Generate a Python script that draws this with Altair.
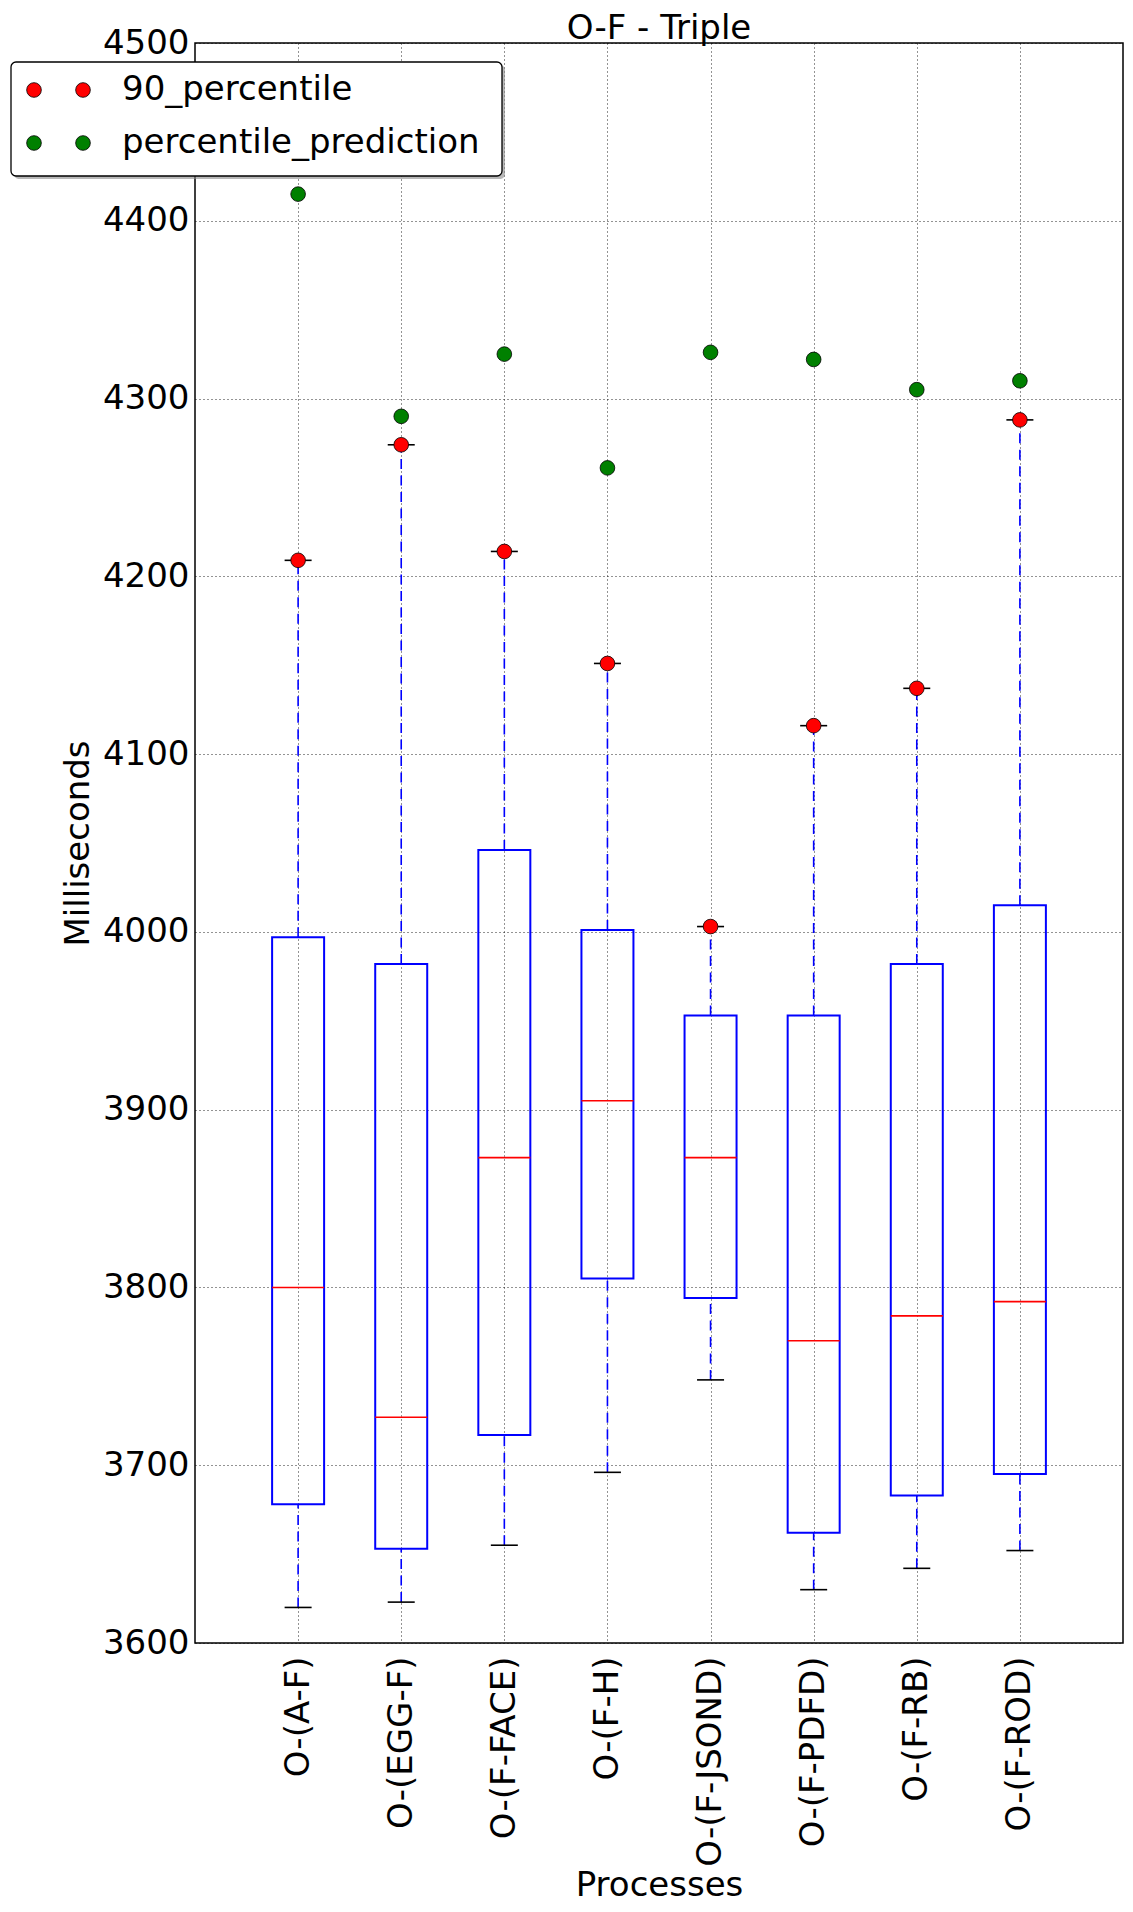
import altair as alt
import pandas as pd

# ---- data ----
processes = ["O-(A-F)", "O-(EGG-F)", "O-(F-FACE)", "O-(F-H)",
             "O-(F-JSOND)", "O-(F-PDFD)", "O-(F-RB)", "O-(F-ROD)"]
whisker_low = [3620, 3623, 3655, 3696, 3748, 3630, 3642, 3652]
q1 = [3678, 3653, 3717, 3805, 3794, 3662, 3683, 3695]
median = [3800, 3727, 3873, 3905, 3873, 3770, 3784, 3792]
q3 = [3997, 3982, 4046, 4001, 3953, 3953, 3982, 4015]
p90 = [4209, 4274, 4214, 4151, 4003, 4116, 4137, 4288]
prediction = [4415, 4290, 4325, 4261, 4326, 4322, 4305, 4310]

series_names = ["90_percentile", "percentile_prediction"]
series_colors = ["#ff0000", "#008000"]
y_ticks = [3600, 3700, 3800, 3900, 4000, 4100, 4200, 4300, 4400, 4500]
chart_title = "O-F - Triple"

FONT = "DejaVu Sans"
W, H = 928, 1600

box_df = pd.DataFrame({"process": processes, "lo": whisker_low, "q1": q1,
                       "median": median, "q3": q3, "hi": p90})
pts_df = pd.DataFrame({
    "process": processes * 2,
    "series": [series_names[0]] * len(processes) + [series_names[1]] * len(processes),
    "value": p90 + prediction,
})
legend_df = pd.DataFrame({"series": series_names, "color": series_colors})

x_scale = alt.Scale(type="point", padding=1, domain=processes)
y_scale = alt.Scale(domain=[3600, 4500], nice=False, zero=False)

x_axis = alt.Axis(title="Processes", labelAngle=270, labelAlign="right",
                  labelBaseline="middle", labelPadding=13, labelOverlap=False,
                  labelLimit=0,
                  titleX=W / 2, titleY=252, titleBaseline="alphabetic",
                  titleAlign="center")
y_axis = alt.Axis(title="Milliseconds", values=y_ticks, labelPadding=6,
                  labelOverlap=False, labelFlush=False, format="d",
                  titleAngle=270, titleX=-107, titleY=H / 2,
                  titleBaseline="alphabetic", titleAlign="center")


def X():
    return alt.X("process:N", scale=x_scale, axis=x_axis, sort=processes)


def Y(field):
    return alt.Y(f"{field}:Q", scale=y_scale, axis=y_axis)


base = alt.Chart(box_df)

boxes = base.mark_bar(size=52, fill="white", fillOpacity=0, stroke="#0000ff",
                      strokeWidth=2).encode(x=X(), y=Y("q1"), y2="q3:Q")

whisk_up = base.mark_rule(color="#0000ff", strokeWidth=1.6,
                          strokeDash=[10, 6.5]).encode(x=X(), y=Y("q3"), y2="hi:Q")
whisk_dn = base.mark_rule(color="#0000ff", strokeWidth=1.6,
                          strokeDash=[10, 6.5]).encode(x=X(), y=Y("lo"), y2="q1:Q")

cap_lo = base.mark_tick(color="black", size=27, thickness=1.6, opacity=1,
                        orient="horizontal").encode(x=X(), y=Y("lo"))
cap_hi = base.mark_tick(color="black", size=27, thickness=1.6, opacity=1,
                        orient="horizontal").encode(x=X(), y=Y("hi"))
med = base.mark_tick(color="#ff0000", size=52, thickness=1.6, opacity=1,
                     orient="horizontal").encode(x=X(), y=Y("median"))

points = alt.Chart(pts_df).mark_point(filled=True, size=215, opacity=1,
                                      stroke="black", strokeWidth=0.8).encode(
    x=X(), y=Y("value"),
    color=alt.Color("series:N", scale=alt.Scale(domain=series_names,
                                                range=series_colors),
                    legend=None),
)

# ---- chart title drawn just above the frame ----
title_mark = alt.Chart(pd.DataFrame({"t": [chart_title]})).mark_text(
    font=FONT, fontSize=34, color="black", align="center",
    baseline="alphabetic").encode(x=alt.value(W / 2), y=alt.value(-4),
                                  text="t:N")

# ---- matplotlib-style legend (two markers per entry, shadowed box) ----
one = alt.Chart(pd.DataFrame({"k": [0]}))
lg_shadow = one.mark_rect(fill="#888888", opacity=0.6, cornerRadius=5).encode(
    x=alt.value(-181), x2=alt.value(310), y=alt.value(22), y2=alt.value(136))
lg_box = one.mark_rect(fill="white", stroke="black", strokeWidth=1.3,
                       cornerRadius=5).encode(
    x=alt.value(-184), x2=alt.value(307), y=alt.value(19), y2=alt.value(133))
legend_layers = [lg_shadow, lg_box]
for i, (name, col) in enumerate(zip(series_names, series_colors)):
    row = alt.Chart(legend_df[legend_df["series"] == name])
    yy = 47 + 53 * i
    for xx in (-161, -112):
        legend_layers.append(row.mark_point(filled=True, size=215, opacity=1,
                                            fill=col, stroke="black",
                                            strokeWidth=0.8).encode(
            x=alt.value(xx), y=alt.value(yy)))
    legend_layers.append(row.mark_text(align="left", baseline="middle",
                                       font=FONT, fontSize=34,
                                       color="black").encode(
        x=alt.value(-73), y=alt.value(yy), text="series:N"))

chart = alt.layer(boxes, whisk_up, whisk_dn, cap_lo, cap_hi, med, points,
                  title_mark, *legend_layers).properties(
    width=W, height=H,
    autosize=alt.AutoSizeParams(type="none"),
    padding={"left": 187, "top": 35, "right": 2, "bottom": 261},
).configure_view(
    stroke="black", strokeWidth=1.5
).configure_axis(
    labelFont=FONT, labelFontSize=34, labelColor="black",
    titleFont=FONT, titleFontSize=34, titleFontWeight="normal", titleColor="black",
    grid=True, gridColor="black", gridDash=[1, 3], gridWidth=1, gridOpacity=0.85,
    domain=False, ticks=False,
)

chart.save("out.html", embed_options={"renderer": "svg", "actions": False})
